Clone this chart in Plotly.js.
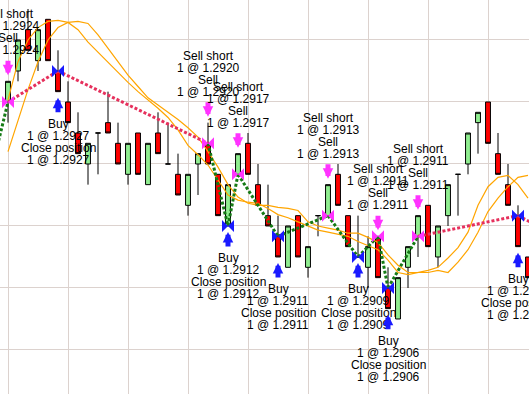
<!DOCTYPE html>
<html><head><meta charset="utf-8">
<script src="https://cdn.plot.ly/plotly-3.0.1.min.js"></script>
<style>html,body{margin:0;padding:0;background:#fff;overflow:hidden}#chart{width:529px;height:394px}</style>
</head><body><div id="chart"></div>
<script>
// ---- data ----
const bars = [0,1,2,3,4,5,6,7,8,9,10,11,12,13,14,15,16,17,18,19,20,21,22,23,24,25,26,27,28,29,30,31,32,33,34,35,36,37,38,39,40,41,42,43,44,45,46,47,48,49,50,51,52];
const openP  = [1.2924,1.2927,1.2931,1.2928,1.2932,1.2927,1.2924,1.2921,1.2918,1.2921,1.2922,1.2920,1.2917,1.2921,1.2916,1.2921,1.2918,1.2917,1.2914,1.2918,1.2920,1.2917,1.2912,1.2917,1.2920,1.2916,1.2913,1.2911,1.2908,1.2913,1.2908,1.2913,1.2913,1.2917,1.2913,1.2909,1.2908,1.2911,1.2906,1.2903,1.2908,1.2911,1.2914,1.2909,1.2913,1.2917,1.2918,1.2922,1.2924,1.2919,1.2916,1.2913,1.2909];
const highP  = [1.2926,1.2930,1.2933,1.2931,1.2932,1.2929,1.2926,1.2923,1.2920,1.2921,1.2925,1.2922,1.2920,1.2921,1.2920,1.2923,1.2922,1.2919,1.2917,1.2919,1.2922,1.2917,1.2916,1.2919,1.2921,1.2918,1.2916,1.2913,1.2912,1.2913,1.2910,1.2913,1.2916,1.2918,1.2913,1.2913,1.2911,1.2911,1.2908,1.2907,1.2910,1.2913,1.2914,1.2912,1.2916,1.2917,1.2921,1.2923,1.2924,1.2921,1.2918,1.2914,1.2909];
const lowP   = [1.2922,1.2926,1.2929,1.2927,1.2928,1.2925,1.2922,1.2919,1.2916,1.2917,1.2921,1.2918,1.2916,1.2917,1.2916,1.2919,1.2918,1.2915,1.2913,1.2915,1.2918,1.2913,1.2912,1.2917,1.2917,1.2914,1.2912,1.2909,1.2908,1.2909,1.2907,1.2911,1.2913,1.2914,1.2910,1.2909,1.2906,1.2907,1.2904,1.2903,1.2906,1.2909,1.2910,1.2908,1.2912,1.2913,1.2917,1.2919,1.2920,1.2917,1.2914,1.2910,1.2907];
const closeP = [1.2926,1.2930,1.2929,1.2931,1.2928,1.2925,1.2922,1.2919,1.2920,1.2921,1.2921,1.2918,1.2920,1.2917,1.2920,1.2919,1.2918,1.2915,1.2917,1.2919,1.2918,1.2913,1.2916,1.2919,1.2917,1.2914,1.2912,1.2909,1.2912,1.2909,1.2910,1.2913,1.2916,1.2914,1.2910,1.2909,1.2910,1.2907,1.2904,1.2907,1.2910,1.2913,1.2910,1.2912,1.2916,1.2917,1.2921,1.2923,1.2920,1.2917,1.2914,1.2910,1.2907];

// two moving averages
const maFast = [1.29242,1.29279,1.29300,1.29312,1.29318,1.29319,1.29317,1.29310,1.29298,1.29288,1.29279,1.29269,1.29259,1.29250,1.29242,1.29234,1.29225,1.29213,1.29198,1.29189,1.29179,1.29165,1.29150,1.29145,1.29143,1.29142,1.29137,1.29131,1.29128,1.29124,1.29120,1.29116,1.29114,1.29112,1.29110,1.29105,1.29101,1.29097,1.29087,1.29075,1.29073,1.29075,1.29077,1.29080,1.29089,1.29099,1.29114,1.29140,1.29158,1.29167,1.29169,1.29160,1.29147];
const maSlow = [1.29192,1.29223,1.29252,1.29279,1.29300,1.29312,1.29317,1.29318,1.29316,1.29305,1.29292,1.29279,1.29266,1.29255,1.29244,1.29237,1.29230,1.29223,1.29215,1.29206,1.29192,1.29177,1.29160,1.29148,1.29142,1.29140,1.29140,1.29138,1.29137,1.29135,1.29124,1.29120,1.29118,1.29116,1.29113,1.29113,1.29109,1.29104,1.29092,1.29082,1.29075,1.29075,1.29075,1.29077,1.29075,1.29085,1.29097,1.29114,1.29134,1.29147,1.29158,1.29167,1.29169];

// trades (stop-and-reverse)
const tradeBar   = [0,5,20,22,23,27,32,35,37,38,41,51];
const tradeSide  = ['sell','buy','sell','buy','sell','buy','sell','buy','sell','buy','sell','buy'];
const tradePrice = [1.2924,1.2927,1.2920,1.2912,1.2917,1.2911,1.2913,1.2909,1.2911,1.2906,1.2911,1.2913];
// entry before the visible window and exit after it
const priorBar = -2, priorPrice = 1.2916, priorSide = 'buy';
const nextBar = 53, nextPrice = 1.2912;

// ---- styles ----
const GREEN_FILL = '#90ee90', RED_FILL = '#ff0000';
const MA_COLOR = '#ffa500';
const WIN_COLOR = '#157a15', LOSS_COLOR = '#e6305c';
const SELL_COLOR = '#ff33ff', BUY_COLOR = '#1a1aff';
const FONT = {family:'Arial, "Liberation Sans", sans-serif', size:12, color:'#000'};

const traces = [];
traces.push({
  type:'candlestick', x:bars, open:openP, high:highP, low:lowP, close:closeP,
  increasing:{line:{color:'#000', width:1}, fillcolor:GREEN_FILL},
  decreasing:{line:{color:'#000', width:1}, fillcolor:RED_FILL},
  whiskerwidth:0, hoverinfo:'skip', showlegend:false
});
traces.push({type:'scatter', mode:'lines', x:bars, y:maSlow, line:{color:MA_COLOR, width:1.2}, hoverinfo:'skip', showlegend:false});
traces.push({type:'scatter', mode:'lines', x:bars, y:maFast, line:{color:MA_COLOR, width:1.2}, hoverinfo:'skip', showlegend:false});

// trade path segments
const pX = [priorBar].concat(tradeBar, [nextBar]);
const pY = [priorPrice].concat(tradePrice, [nextPrice]);
const pS = [priorSide].concat(tradeSide);
for (let i = 0; i < pX.length - 1; i++) {
  const pnl = pS[i] === 'buy' ? pY[i+1] - pY[i] : pY[i] - pY[i+1];
  traces.push({type:'scatter', mode:'lines', x:[pX[i], pX[i+1]], y:[pY[i], pY[i+1]],
    line:{color: pnl > 0 ? WIN_COLOR : LOSS_COLOR, width:3, dash:'3px,2px'},
    hoverinfo:'skip', showlegend:false});
}
// bowtie markers at the fills
traces.push({type:'scatter', mode:'markers', x:tradeBar, y:tradePrice,
  marker:{symbol:'bowtie', size:12, color:tradeSide.map(s => s === 'sell' ? SELL_COLOR : BUY_COLOR), line:{width:0}},
  hoverinfo:'skip', showlegend:false, cliponaxis:false});

// arrows and labels
const annotations = [];
tradeBar.forEach((k, i) => {
  const p = tradePrice[i].toFixed(4);
  if (tradeSide[i] === 'sell') {
    const h = highP[k];
    annotations.push({x:k, y:h, xref:'x', yref:'y', text:'', showarrow:true, ax:0, ay:-22,
      arrowhead:2, arrowsize:0.42, arrowwidth:5, arrowcolor:SELL_COLOR, standoff:6});
    const lines = ['Sell short', '1 @ ' + p, 'Sell', '1 @ ' + p];
    lines.forEach((t, j) => annotations.push({x:k, y:h, xref:'x', yref:'y', text:t, showarrow:false,
      xanchor:'center', yanchor:'middle', yshift: 31 + (3 - j) * 12, font:FONT}));
  } else {
    const l = lowP[k];
    annotations.push({x:k, y:l, xref:'x', yref:'y', text:'', showarrow:true, ax:0, ay:22,
      arrowhead:2, arrowsize:0.42, arrowwidth:5, arrowcolor:BUY_COLOR, standoff:6});
    const lines = ['Buy', '1 @ ' + p, 'Close position', '1 @ ' + p];
    lines.forEach((t, j) => annotations.push({x:k, y:l, xref:'x', yref:'y', text:t, showarrow:false,
      xanchor:'center', yanchor:'middle', yshift: -(32 + j * 12), font:FONT}));
  }
});

const layout = {
  width:529, height:394, margin:{l:0, r:0, t:0, b:0, pad:0},
  paper_bgcolor:'#fff', plot_bgcolor:'#fff', showlegend:false,
  xaxis:{range:[-0.8, 52.1], showticklabels:false, ticks:'', showgrid:true, gridcolor:'#dcd2ce', gridwidth:1,
    tick0:0, dtick:6, zeroline:false, showline:false, rangeslider:{visible:false}, fixedrange:true},
  yaxis:{range:[1.289574, 1.293387], showticklabels:false, ticks:'', showgrid:true, gridcolor:'#dcd2ce', gridwidth:1,
    tick0:1.2906, dtick:0.0006, zeroline:false, showline:false, fixedrange:true},
  annotations:annotations
};
Plotly.newPlot('chart', traces, layout, {staticPlot:true, displayModeBar:false});
</script>
</body></html>
